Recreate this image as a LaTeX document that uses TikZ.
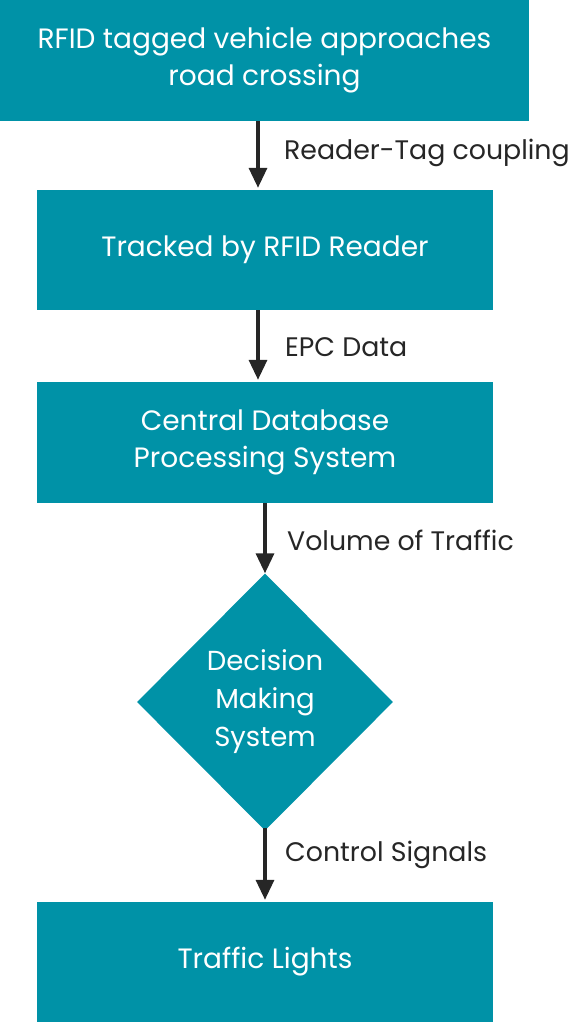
\documentclass[tikz,border=0pt]{standalone}
\usepackage{fontspec}
\setmainfont{Poppins}
\usetikzlibrary{shapes.geometric,arrows.meta}
\definecolor{teal1}{HTML}{0092A7}
\definecolor{ink}{HTML}{262626}
\begin{document}
\begin{tikzpicture}[x=1pt,y=-1pt,
  box/.style={rectangle,fill=teal1,text=white,inner sep=0,align=center,
    font=\fontsize{28}{37}\selectfont},
  dia/.style={diamond,fill=teal1,text=white,inner sep=0,align=center,
    minimum width=256,minimum height=257,font=\fontsize{27.5}{38}\selectfont},
  lab/.style={anchor=west,text=ink,inner sep=0,font=\fontsize{26.8}{30}\selectfont},
  arr/.style={draw=ink,line width=3.4pt,-{Triangle[length=20pt,width=18pt]},shorten >=2pt}]
\useasboundingbox (0,0) rectangle (574,1024);
\node[box,minimum width=529,minimum height=121] (b1) at (264.5,60.5) {RFID tagged vehicle approaches\\road crossing};
\node[box,minimum width=456,minimum height=120] (b2) at (265,250) {Tracked by RFID Reader};
\node[box,minimum width=456,minimum height=121] (b3) at (265,442.5) {Central Database\\Processing System};
\node[dia] (d) at (265,702) {Decision\\Making\\System};
\node[box,minimum width=456,minimum height=120] (b5) at (265,962) {Traffic Lights};
\coordinate (x1) at (258,0);
\coordinate (x2) at (265,0);
\draw[arr] (b1.south -| x1) -- (b2.north -| x1);
\draw[arr] (b2.south -| x1) -- (b3.north -| x1);
\draw[arr] (b3.south -| x2) -- ([yshift=-2pt]d.north);
\draw[arr] ([yshift=3pt]d.south) -- (b5.north -| x2);
\node[lab] (l1) at (284,153) {Reader-Tag coupling};
\node[lab] (l2) at (285,347) {EPC Data};
\node[lab] (l3) at (287,540) {Volume of Traffic};
\node[lab] (l4) at (285,855) {Control Signals};
\end{tikzpicture}
\end{document}
